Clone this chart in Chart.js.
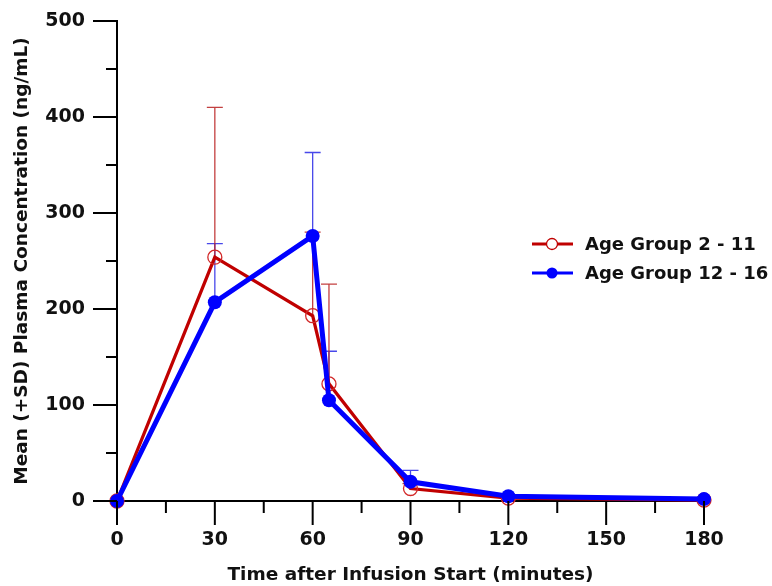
<!DOCTYPE html>
<html lang="en">
<head>
    <meta charset="UTF-8">
    <title>Plasma Concentration</title>
    <script src="https://cdn.jsdelivr.net/npm/chart.js@4.4.1/dist/chart.umd.min.js"></script>
    <style>
        html, body { margin: 0; padding: 0; background: #fff; }
        #wrap { width: 772px; height: 586px; }
    </style>
</head>
<body>
    <div id="wrap"><canvas id="pk"></canvas></div>

    <script>
        // data
        const times = [0, 30, 60, 65, 90, 120, 180];
        const young = [0, 254, 193, 122, 13, 3, 1];     // Age Group 2 - 11
        const youngSD = [0, 156, 87, 104, 5, 1, 0];
        const older = [0, 207, 276, 105, 20, 5, 2];     // Age Group 12 - 16
        const olderSD = [0, 61, 87, 51, 12, 1, 0];

        const xMajor = [0, 30, 60, 90, 120, 150, 180];
        const xMinor = [15, 45, 75, 105, 135, 165];
        const yMajor = [0, 100, 200, 300, 400, 500];
        const yMinor = [50, 150, 250, 350, 450];

        const FONT = '"DejaVu Sans", Verdana, sans-serif';
        const RED = '#c00000';
        const BLUE = '#0000ff';

        function pts(ys) {
            return times.map((t, i) => ({ x: t, y: ys[i] }));
        }

        // upper SD bars with caps
        const errorBars = {
            id: 'errorBars',
            beforeDatasetsDraw(chart) {
                const { ctx, scales: { x, y } } = chart;
                ctx.save();
                chart.data.datasets.forEach(ds => {
                    ctx.strokeStyle = ds.errColor;
                    ctx.lineWidth = 1.3;
                    ds.data.forEach((p, i) => {
                        const sd = ds.sd[i];
                        if (!sd) return;
                        const px = x.getPixelForValue(p.x);
                        const y0 = y.getPixelForValue(p.y);
                        const y1 = y.getPixelForValue(p.y + sd);
                        ctx.beginPath();
                        ctx.moveTo(px, y0);
                        ctx.lineTo(px, y1);
                        ctx.moveTo(px - 8, y1);
                        ctx.lineTo(px + 8, y1);
                        ctx.stroke();
                    });
                });
                ctx.restore();
            }
        };

        // outward major/minor tick marks
        const tickMarks = {
            id: 'tickMarks',
            afterDraw(chart) {
                const { ctx, chartArea: { left, bottom }, scales: { x, y } } = chart;
                ctx.save();
                ctx.strokeStyle = '#000';
                ctx.lineWidth = 2;
                ctx.beginPath();
                xMajor.forEach(v => { const p = x.getPixelForValue(v); ctx.moveTo(p, bottom); ctx.lineTo(p, bottom + 24); });
                xMinor.forEach(v => { const p = x.getPixelForValue(v); ctx.moveTo(p, bottom); ctx.lineTo(p, bottom + 12); });
                yMajor.forEach(v => { const p = y.getPixelForValue(v); ctx.moveTo(left, p); ctx.lineTo(left - 24, p); });
                yMinor.forEach(v => { const p = y.getPixelForValue(v); ctx.moveTo(left, p); ctx.lineTo(left - 11, p); });
                ctx.stroke();
                ctx.restore();
            }
        };

        // legend inside the plot area
        const boxLegend = {
            id: 'boxLegend',
            afterDraw(chart) {
                const { ctx } = chart;
                const items = [chart.data.datasets[1], chart.data.datasets[0]];
                ctx.save();
                ctx.font = 'bold 18px ' + FONT;
                ctx.textBaseline = 'middle';
                items.forEach((ds, i) => {
                    const yy = 244 + i * 29;
                    ctx.strokeStyle = ds.borderColor;
                    ctx.lineWidth = 3;
                    ctx.beginPath();
                    ctx.moveTo(532, yy);
                    ctx.lineTo(573, yy);
                    ctx.stroke();
                    ctx.beginPath();
                    ctx.arc(552, yy, 5.5, 0, Math.PI * 2);
                    if (ds.pointBackgroundColor !== 'transparent') {
                        ctx.fillStyle = ds.pointBackgroundColor;
                        ctx.fill();
                    } else {
                        ctx.fillStyle = '#fff';
                        ctx.fill();
                        ctx.lineWidth = 1.3;
                        ctx.stroke();
                    }
                    ctx.fillStyle = '#111';
                    ctx.fillText(ds.label, 585, yy + 1);
                });
                ctx.restore();
            }
        };

        const config = {
            type: 'line',
            data: {
                datasets: [
                    {
                        label: 'Age Group 12 - 16',
                        data: pts(older),
                        sd: olderSD,
                        errColor: 'rgba(40,40,230,0.85)',
                        borderColor: BLUE,
                        borderWidth: 5,
                        pointRadius: 7,
                        pointBorderWidth: 0,
                        pointBackgroundColor: BLUE,
                        pointBorderColor: BLUE,
                        clip: false,
                        tension: 0
                    },
                    {
                        label: 'Age Group 2 - 11',
                        data: pts(young),
                        sd: youngSD,
                        errColor: 'rgba(185,30,30,0.85)',
                        borderColor: RED,
                        borderWidth: 3.3,
                        pointRadius: 7,
                        pointBorderWidth: 1.3,
                        pointBackgroundColor: 'transparent',
                        pointBorderColor: 'rgb(210,40,40)',
                        clip: false,
                        tension: 0
                    }
                ]
            },
            options: {
                responsive: true,
                maintainAspectRatio: false,
                animation: false,
                layout: { padding: { top: 21, right: 68, bottom: 0, left: 0 } },
                plugins: {
                    legend: { display: false },
                    tooltip: { enabled: false }
                },
                scales: {
                    x: {
                        type: 'linear',
                        min: 0,
                        max: 180,
                        afterFit: s => {
                            s.height = 85;
                            s.paddingLeft = 0;
                            s.paddingRight = 0;
                        },
                        grid: { display: false, drawTicks: false },
                        border: { display: true, color: '#000', width: 2 },
                        ticks: {
                            stepSize: 30,
                            padding: 28,
                            color: '#111',
                            font: { family: FONT, size: 19, weight: 'bold' }
                        },
                        title: {
                            display: true,
                            text: 'Time after Infusion Start (minutes)',
                            color: '#111',
                            padding: { top: 0, bottom: 0 },
                            font: { family: FONT, size: 18.5, weight: 'bold' }
                        }
                    },
                    y: {
                        min: 0,
                        max: 500,
                        afterFit: s => {
                            s.width = 117;
                            s.paddingTop = 0;
                            s.paddingBottom = 0;
                        },
                        grid: { display: false, drawTicks: false },
                        border: { display: true, color: '#000', width: 2 },
                        ticks: {
                            stepSize: 100,
                            padding: 32,
                            color: '#111',
                            font: { family: FONT, size: 19, weight: 'bold' }
                        },
                        title: {
                            display: true,
                            text: 'Mean (+SD) Plasma Concentration (ng/mL)',
                            color: '#111',
                            padding: { top: 11, bottom: 0 },
                            font: { family: FONT, size: 18.5, weight: 'bold' }
                        }
                    }
                }
            },
            plugins: [errorBars, tickMarks, boxLegend]
        };

        new Chart(document.getElementById('pk'), config);
    </script>
</body>
</html>
